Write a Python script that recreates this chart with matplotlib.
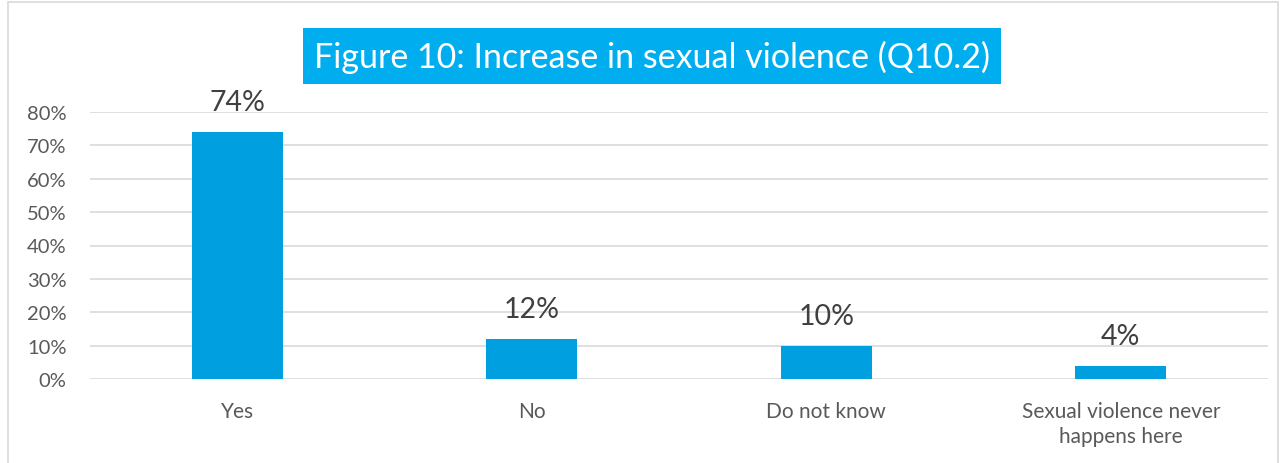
import matplotlib
matplotlib.use('Agg')
import matplotlib.pyplot as plt
from matplotlib.patches import Rectangle

categories = ['Yes', 'No', 'Do not know', 'Sexual violence never\nhappens here']
values = [0.74, 0.12, 0.10, 0.04]
yticks = [0, 0.1, 0.2, 0.3, 0.4, 0.5, 0.6, 0.7, 0.8]
title = 'Figure 10: Increase in sexual violence (Q10.2)'

BAR = '#009FDF'
TEXT = '#595959'
plt.rcParams['font.family'] = ['Lato', 'DejaVu Sans']

fig = plt.figure(figsize=(12.84, 4.64), dpi=100)
ax = fig.add_axes([90 / 1284, 1 - 380 / 464, 1178 / 1284, 267 / 464])

x = range(len(categories))
bars = ax.bar(x, values, width=0.31, color=BAR, zorder=3)
for b, v in zip(bars, values):
    ax.text(b.get_x() + b.get_width() / 2, v + 0.05, f'{v:.0%}',
            ha='center', va='bottom', fontsize=20.5, color='#404040')

ax.set_xlim(-0.5, len(categories) - 0.5)
ax.set_ylim(0, 0.8)
ax.set_yticks(yticks)
ax.set_yticklabels([f'{t:.0%}' for t in yticks], fontsize=14.5, color=TEXT)
ax.set_xticks(list(x))
ax.set_xticklabels(categories, fontsize=15, color=TEXT, linespacing=1.3)
ax.tick_params(length=0)
ax.tick_params(axis='x', pad=16)
ax.tick_params(axis='y', pad=17)
ax.grid(axis='y', color='#D9D9D9', lw=1.2, zorder=0)
for s in ax.spines.values():
    s.set_visible(False)

fig.text(652 / 1284, 1 - 57 / 464, title, ha='center', va='center',
         fontsize=24.5, color='white',
         bbox=dict(boxstyle='square,pad=0.33', fc='#00AEEF', ec='none'))

fig.patches.append(Rectangle((8 / 1284, -0.01), 1270 / 1284, 1 - 3 / 464 + 0.01,
                             transform=fig.transFigure, fill=False,
                             ec='#D9D9D9', lw=1.2))

fig.savefig('out.png', dpi=100)
